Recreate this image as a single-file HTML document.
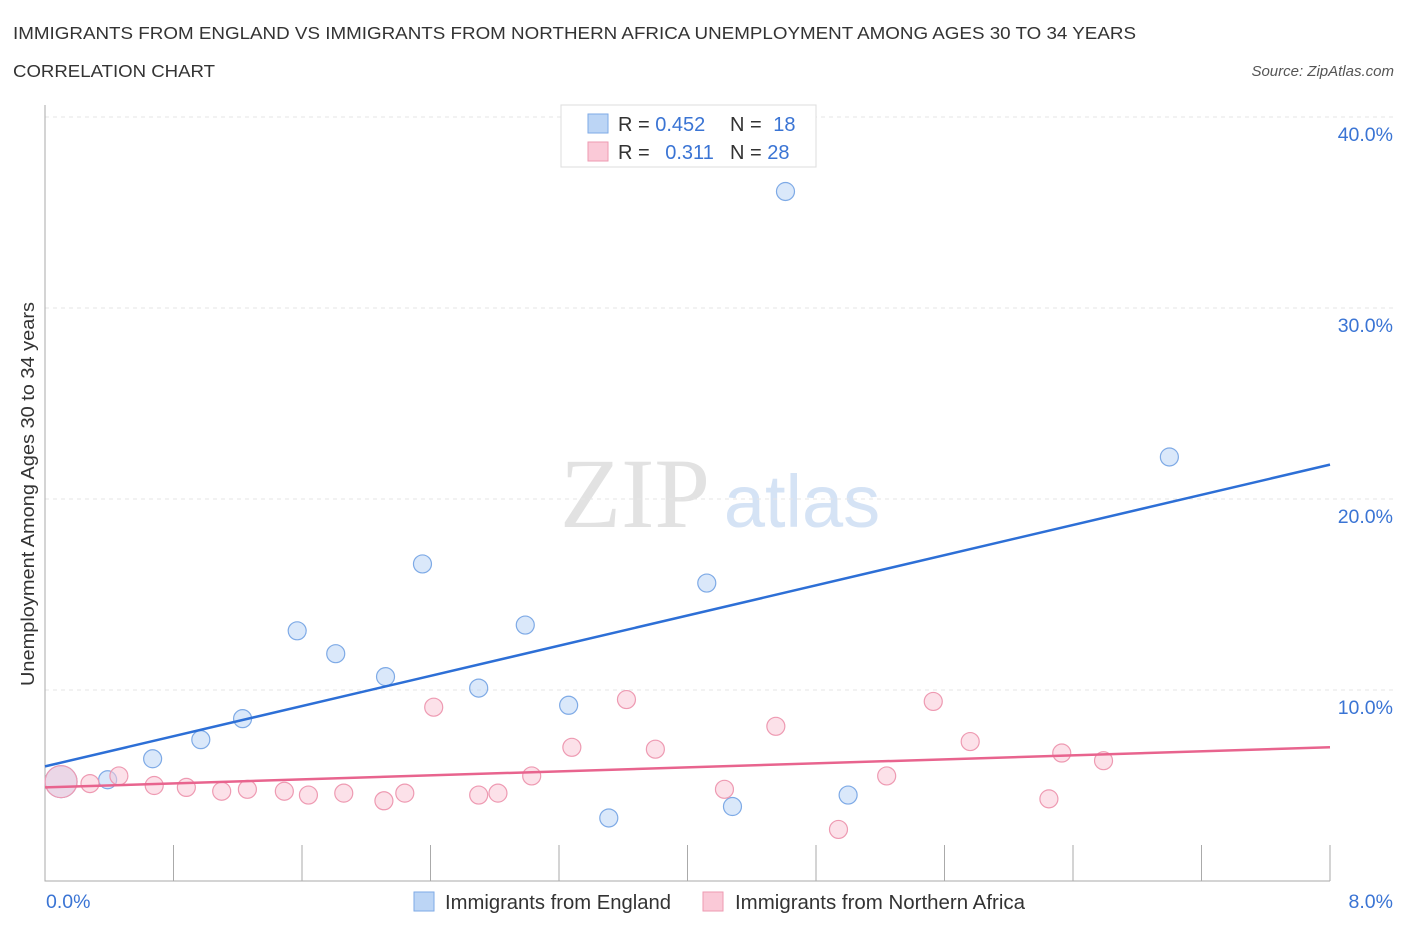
<!DOCTYPE html>
<html><head><meta charset="utf-8"><style>
body{margin:0;background:#fff;font-family:"Liberation Sans",sans-serif;}
</style></head><body>
<svg width="1406" height="930" xmlns="http://www.w3.org/2000/svg" id="chart" font-family="Liberation Sans, sans-serif">
<text x="13" y="39" font-size="17.5" fill="#333" textLength="1123" lengthAdjust="spacingAndGlyphs">IMMIGRANTS FROM ENGLAND VS IMMIGRANTS FROM NORTHERN AFRICA UNEMPLOYMENT AMONG AGES 30 TO 34 YEARS</text>
<text x="13" y="77" font-size="17.5" fill="#333" textLength="202" lengthAdjust="spacingAndGlyphs">CORRELATION CHART</text>
<text x="1394" y="76" font-size="15" fill="#555" font-style="italic" text-anchor="end">Source: ZipAtlas.com</text>
<text x="635" y="527" font-size="100" fill="#e2e2e2" font-family="Liberation Serif, serif" text-anchor="middle">ZIP</text>
<text x="802" y="527" font-size="74" fill="#d5e3f5" text-anchor="middle">atlas</text>
<text transform="translate(34,494) rotate(-90)" font-size="18" fill="#333" text-anchor="middle" textLength="384" lengthAdjust="spacingAndGlyphs">Unemployment Among Ages 30 to 34 years</text>
<g id="grid"></g><g id="marks"></g>
<g>
<rect x="561" y="105" width="255" height="62" fill="#fff" stroke="#ddd"/>
<rect x="588" y="114" width="20" height="19" fill="#bcd5f5" stroke="#7eaae6"/>
<rect x="588" y="142" width="20" height="19" fill="#fac9d7" stroke="#ee9ab2"/>
<text x="618" y="131" font-size="20" fill="#333">R = <tspan fill="#3a74d4">0.452</tspan></text>
<text x="730" y="131" font-size="20" fill="#333">N = <tspan fill="#3a74d4" dx="6">18</tspan></text>
<text x="618" y="159" font-size="20" fill="#333">R = <tspan fill="#3a74d4" dx="10">0.311</tspan></text>
<text x="730" y="159" font-size="20" fill="#333">N = <tspan fill="#3a74d4">28</tspan></text>
</g>
<g>
<rect x="414" y="892" width="20" height="19" fill="#bcd5f5" stroke="#7eaae6"/>
<text x="445" y="909" font-size="20" fill="#333" textLength="226" lengthAdjust="spacingAndGlyphs">Immigrants from England</text>
<rect x="703" y="892" width="20" height="19" fill="#fac9d7" stroke="#ee9ab2"/>
<text x="735" y="909" font-size="20" fill="#333" textLength="290" lengthAdjust="spacingAndGlyphs">Immigrants from Northern Africa</text>
</g>
</svg>
<script>
const xTicks=[0,8];
const yTicks=[10,20,30,40];
const englandX=[0.10,0.39,0.67,0.97,1.23,1.57,1.81,2.12,2.35,2.70,2.99,3.26,3.51,4.12,4.28,4.61,5.00,7.00];
const englandY=[5.2,5.3,6.4,7.4,8.5,13.1,11.9,10.7,16.6,10.1,13.4,9.2,3.3,15.6,3.9,36.1,4.5,22.2];
const africaX=[0.10,0.28,0.46,0.68,0.88,1.10,1.26,1.49,1.64,1.86,2.11,2.24,2.42,2.70,2.82,3.03,3.28,3.62,3.80,4.23,4.55,4.94,5.24,5.53,5.76,6.25,6.33,6.59];
const africaY=[5.2,5.1,5.5,5.0,4.9,4.7,4.8,4.7,4.5,4.6,4.2,4.6,9.1,4.5,4.6,5.5,7.0,9.5,6.9,4.8,8.1,2.7,5.5,9.4,7.3,4.3,6.7,6.3];
const englandTrend=[6.0,21.8];
const africaTrend=[4.9,7.0];
const NS='http://www.w3.org/2000/svg';
const sx=v=>45+v/8*1285, sy=v=>881-v*19.1;
function mk(p,t,a){const e=document.createElementNS(NS,t);for(const k in a)e.setAttribute(k,a[k]);p.appendChild(e);return e;}
const g=document.getElementById('grid'), m=document.getElementById('marks');
yTicks.forEach(v=>{
 const l=mk(g,'line',{x1:45,x2:1394,y1:sy(v),y2:sy(v),stroke:'#e6e6e6','stroke-dasharray':'4,4'});
 
 
 const t=mk(g,'text',{x:1393,y:sy(v)+24,'font-size':19.5,fill:'#3a74d4','text-anchor':'end'});
 t.textContent=v.toFixed(1)+'%';
 
 
});
const ax=mk(g,'path',{d:'M45,105 V881 H1330',stroke:'#aaa',fill:'none'});


for(let i=1;i<=10;i++){const x=sx(i*0.8);const t=mk(g,'line',{x1:x,x2:x,y1:845,y2:881,stroke:'#aaa'});
 
 }
xTicks.forEach((v,i)=>{const t=mk(g,'text',{x:i?1393:46,y:908,'font-size':19.5,fill:'#3a74d4','text-anchor':i?'end':'start'});
 t.textContent=v.toFixed(1)+'%';
 
 });
function pts(X,Y,fill,stroke,name){X.forEach((x,i)=>{const r=i===0?16:9;
 const c=mk(m,'circle',{cx:sx(x),cy:sy(Y[i]),r:r,fill:fill,'fill-opacity':0.55,stroke:stroke,'stroke-width':1.2});
 
 });}
pts(englandX,englandY,'#bcd5f5','#7eaae6','england-point');
pts(africaX,africaY,'#fac9d7','#ee9ab2','africa-point');
const l1=mk(m,'line',{x1:sx(0),y1:sy(englandTrend[0]),x2:sx(8),y2:sy(englandTrend[1]),stroke:'#2d6fd6','stroke-width':2.5});


const l2=mk(m,'line',{x1:sx(0),y1:sy(africaTrend[0]),x2:sx(8),y2:sy(africaTrend[1]),stroke:'#e8648e','stroke-width':2.5});


</script>
</body></html>
